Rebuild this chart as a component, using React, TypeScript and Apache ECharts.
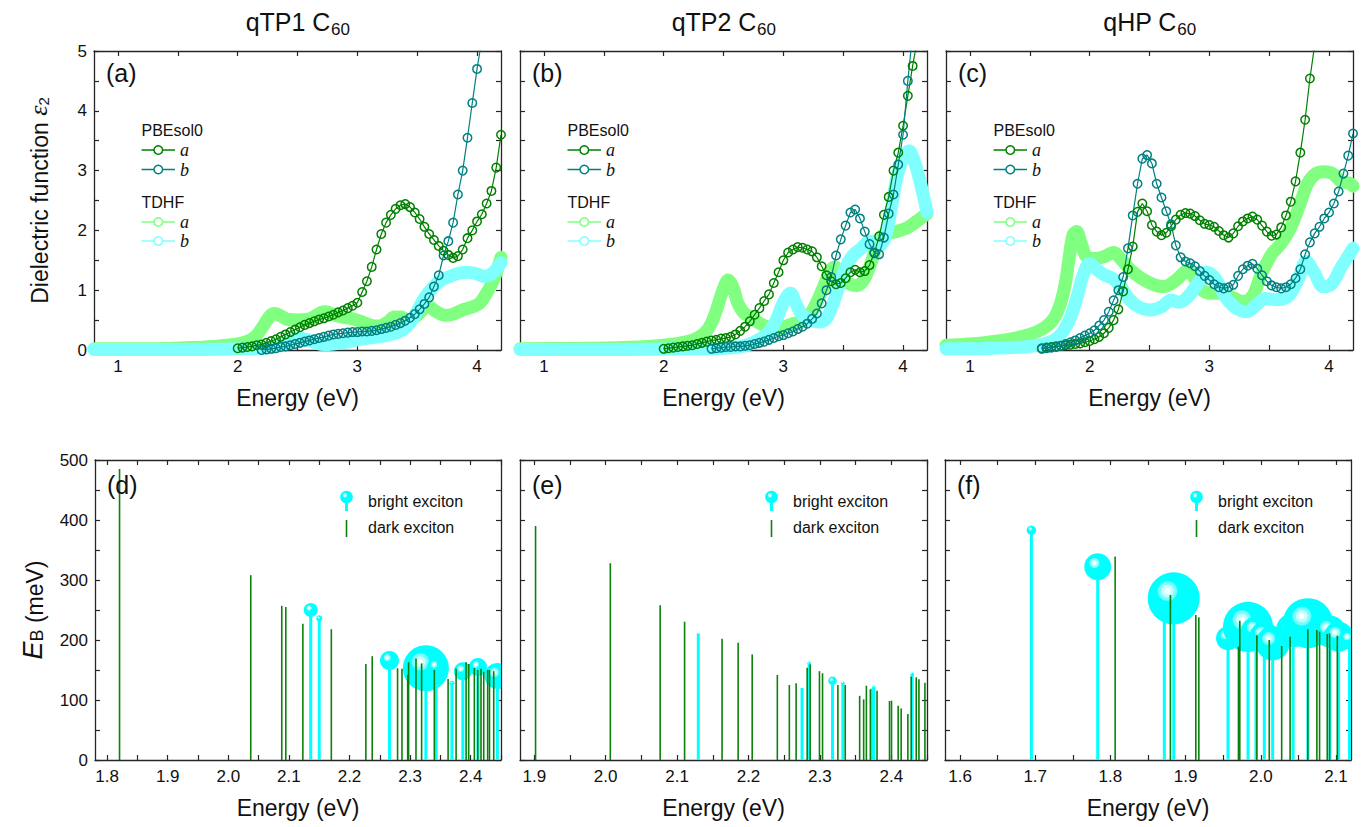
import React, { useEffect, useRef } from 'react';
import * as echarts from 'echarts';

// ---------------- data ----------------
const panelNames = ['qTP1', 'qTP2', 'qHP'];
const titleMolecule = 'C';
const titleSub = '60';
const topTags = ['(a)', '(b)', '(c)'];
const bottomTags = ['(d)', '(e)', '(f)'];
const pbeName = 'PBEsol0';
const tdhfName = 'TDHF';
const compNames = ['a', 'b'];
const brightName = 'bright exciton';
const darkName = 'dark exciton';
const energyName = 'Energy (eV)';

const energyRangeTop = [0.8, 4.2];
const energyLabelsTop = [1, 2, 3, 4];
const energyTicksTop = [1, 1.5, 2, 2.5, 3, 3.5, 4];
const eps2Range = [0, 5];
const eps2Labels = [0, 1, 2, 3, 4, 5];
const eps2Ticks = [0, 0.5, 1, 1.5, 2, 2.5, 3, 3.5, 4, 4.5, 5];

const ebRange = [0, 500];
const ebLabels = [0, 100, 200, 300, 400, 500];
const ebTicks = [0, 50, 100, 150, 200, 250, 300, 350, 400, 450, 500];

const dRange = [1.78, 2.45];
const dLabels = [1.8, 1.9, 2.0, 2.1, 2.2, 2.3, 2.4];
const dTicks = [1.8, 1.85, 1.9, 1.95, 2.0, 2.05, 2.1, 2.15, 2.2, 2.25, 2.3, 2.35, 2.4, 2.45];
const eRange = [1.88, 2.45];
const eLabels = [1.9, 2.0, 2.1, 2.2, 2.3, 2.4];
const eTicks = [1.9, 1.95, 2.0, 2.05, 2.1, 2.15, 2.2, 2.25, 2.3, 2.35, 2.4, 2.45];
const fRange = [1.58, 2.12];
const fLabels = [1.6, 1.7, 1.8, 1.9, 2.0, 2.1];
const fTicks = [1.6, 1.65, 1.7, 1.75, 1.8, 1.85, 1.9, 1.95, 2.0, 2.05, 2.1];

// PBEsol0 spectra: uniform energy grid (start, step 0.04 eV)
const pbeStep = 0.04;
const aPbeAStart = 2.0;
const aPbeA = [0.03, 0.04, 0.05, 0.06, 0.08, 0.09, 0.12, 0.15, 0.18, 0.22, 0.26, 0.3, 0.34, 0.38, 0.42, 0.45, 0.48, 0.51, 0.53, 0.56, 0.59, 0.63, 0.66, 0.7, 0.74, 0.79, 0.97, 1.15, 1.39, 1.68, 1.94, 2.13, 2.26, 2.36, 2.42, 2.44, 2.39, 2.3, 2.19, 2.06, 1.94, 1.84, 1.74, 1.66, 1.59, 1.54, 1.57, 1.68, 1.87, 2.0, 2.15, 2.27, 2.45, 2.66, 3.05, 3.6];
const aPbeBStart = 2.2;
const aPbeB = [0.0, 0.01, 0.02, 0.03, 0.05, 0.06, 0.08, 0.1, 0.12, 0.14, 0.16, 0.18, 0.2, 0.22, 0.24, 0.26, 0.27, 0.28, 0.29, 0.3, 0.3, 0.31, 0.31, 0.32, 0.33, 0.35, 0.37, 0.39, 0.42, 0.45, 0.49, 0.54, 0.6, 0.68, 0.77, 0.88, 1.06, 1.25, 1.58, 1.82, 2.13, 2.6, 3.0, 3.55, 4.13, 4.7, 5.2, 5.8];
const bPbeAStart = 2.0;
const bPbeA = [0.02, 0.03, 0.04, 0.05, 0.06, 0.07, 0.08, 0.1, 0.12, 0.14, 0.16, 0.17, 0.19, 0.2, 0.22, 0.26, 0.32, 0.39, 0.48, 0.59, 0.7, 0.82, 0.93, 1.12, 1.3, 1.5, 1.63, 1.68, 1.72, 1.71, 1.68, 1.65, 1.55, 1.4, 1.25, 1.15, 1.1, 1.12, 1.2, 1.3, 1.34, 1.3, 1.32, 1.42, 1.62, 1.9, 2.26, 2.56, 3.0, 3.3, 3.75, 4.25, 4.75, 5.2];
const bPbeBStart = 2.4;
const bPbeB = [0.02, 0.03, 0.04, 0.05, 0.05, 0.06, 0.06, 0.07, 0.08, 0.1, 0.12, 0.14, 0.17, 0.2, 0.23, 0.25, 0.28, 0.31, 0.35, 0.39, 0.44, 0.52, 0.61, 0.78, 1.0, 1.22, 1.58, 1.85, 2.08, 2.3, 2.35, 2.2, 1.98, 1.77, 1.63, 1.6, 1.88, 2.28, 2.6, 3.1, 3.6, 4.5, 5.3];
const cPbeAStart = 1.6;
const cPbeA = [0.03, 0.04, 0.05, 0.06, 0.07, 0.08, 0.09, 0.1, 0.11, 0.13, 0.15, 0.18, 0.22, 0.28, 0.37, 0.5, 0.68, 0.98, 1.35, 1.73, 2.31, 2.45, 2.32, 2.09, 1.98, 1.92, 1.96, 2.07, 2.18, 2.26, 2.29, 2.28, 2.24, 2.17, 2.11, 2.09, 2.06, 1.99, 1.92, 1.88, 1.95, 2.07, 2.15, 2.2, 2.23, 2.18, 2.08, 1.98, 1.91, 1.93, 2.05, 2.25, 2.48, 2.82, 3.3, 3.85, 4.54, 5.1];
const cPbeBStart = 1.6;
const cPbeB = [0.02, 0.03, 0.04, 0.05, 0.07, 0.1, 0.13, 0.16, 0.2, 0.24, 0.28, 0.33, 0.41, 0.5, 0.64, 0.83, 1.0, 1.22, 1.7, 2.25, 2.78, 3.2, 3.26, 3.12, 2.78, 2.55, 2.32, 2.1, 1.75, 1.55, 1.48, 1.45, 1.4, 1.32, 1.24, 1.17, 1.1, 1.05, 1.03, 1.05, 1.09, 1.24, 1.35, 1.41, 1.44, 1.36, 1.25, 1.15, 1.08, 1.05, 1.03, 1.05, 1.1, 1.2, 1.35, 1.6, 1.8, 1.95, 2.06, 2.2, 2.3, 2.45, 2.65, 2.95, 3.25, 3.62];

// TDHF spectra: [energy, eps2]
const aTdA = [[0.8, 0.02], [1.2, 0.02], [1.6, 0.04], [1.8, 0.06], [2.0, 0.1], [2.1, 0.16], [2.16, 0.25], [2.22, 0.42], [2.27, 0.57], [2.31, 0.61], [2.36, 0.57], [2.42, 0.51], [2.5, 0.5], [2.58, 0.51], [2.64, 0.56], [2.7, 0.63], [2.74, 0.64], [2.8, 0.59], [2.88, 0.55], [2.96, 0.52], [3.04, 0.47], [3.12, 0.41], [3.18, 0.4], [3.25, 0.46], [3.31, 0.55], [3.36, 0.55], [3.43, 0.5], [3.5, 0.58], [3.56, 0.7], [3.6, 0.72], [3.66, 0.64], [3.74, 0.58], [3.8, 0.6], [3.88, 0.67], [3.96, 0.72], [4.02, 0.78], [4.08, 0.95], [4.14, 1.18], [4.2, 1.55]];
const aTdB = [[0.8, 0.01], [1.6, 0.01], [2.0, 0.02], [2.2, 0.03], [2.3, 0.05], [2.4, 0.1], [2.47, 0.18], [2.52, 0.2], [2.58, 0.17], [2.65, 0.12], [2.72, 0.09], [2.8, 0.1], [2.9, 0.13], [3.0, 0.17], [3.1, 0.2], [3.2, 0.23], [3.3, 0.27], [3.38, 0.34], [3.44, 0.45], [3.5, 0.65], [3.56, 0.87], [3.62, 1.02], [3.68, 1.14], [3.76, 1.22], [3.84, 1.28], [3.92, 1.3], [4.0, 1.27], [4.06, 1.23], [4.12, 1.27], [4.16, 1.35], [4.2, 1.46]];
const bTdA = [[0.8, 0.02], [1.4, 0.03], [1.8, 0.05], [2.0, 0.08], [2.2, 0.14], [2.3, 0.22], [2.37, 0.35], [2.42, 0.55], [2.47, 0.85], [2.51, 1.08], [2.54, 1.17], [2.58, 1.05], [2.62, 0.78], [2.67, 0.62], [2.74, 0.53], [2.8, 0.45], [2.88, 0.37], [2.94, 0.34], [3.0, 0.38], [3.08, 0.44], [3.16, 0.48], [3.22, 0.58], [3.28, 0.8], [3.34, 1.08], [3.39, 1.32], [3.43, 1.39], [3.48, 1.27], [3.54, 1.12], [3.62, 1.08], [3.68, 1.2], [3.74, 1.5], [3.79, 1.8], [3.84, 1.93], [3.9, 1.96], [3.96, 1.99], [4.04, 2.05], [4.12, 2.16], [4.2, 2.28]];
const bTdB = [[0.8, 0.01], [1.6, 0.01], [2.2, 0.02], [2.5, 0.03], [2.62, 0.05], [2.72, 0.1], [2.8, 0.18], [2.88, 0.3], [2.94, 0.5], [2.99, 0.75], [3.03, 0.9], [3.06, 0.95], [3.1, 0.8], [3.15, 0.6], [3.22, 0.5], [3.3, 0.47], [3.36, 0.53], [3.42, 0.8], [3.47, 1.1], [3.52, 1.38], [3.58, 1.58], [3.65, 1.7], [3.72, 1.82], [3.76, 1.82], [3.8, 1.74], [3.85, 1.88], [3.9, 2.35], [3.95, 2.9], [4.0, 3.2], [4.05, 3.33], [4.1, 3.12], [4.15, 2.75], [4.2, 2.3]];
const cTdA = [[0.8, 0.08], [1.0, 0.1], [1.3, 0.17], [1.5, 0.26], [1.62, 0.37], [1.7, 0.52], [1.76, 0.8], [1.8, 1.15], [1.83, 1.56], [1.86, 1.92], [1.89, 1.98], [1.93, 1.78], [1.97, 1.57], [2.04, 1.53], [2.12, 1.56], [2.2, 1.63], [2.27, 1.5], [2.34, 1.34], [2.43, 1.2], [2.54, 1.09], [2.62, 1.06], [2.71, 1.15], [2.78, 1.28], [2.82, 1.34], [2.87, 1.22], [2.93, 1.02], [3.01, 0.95], [3.1, 0.95], [3.18, 0.89], [3.28, 0.81], [3.36, 0.9], [3.43, 1.25], [3.52, 1.6], [3.6, 1.78], [3.68, 2.05], [3.75, 2.4], [3.82, 2.78], [3.89, 2.95], [3.96, 2.98], [4.03, 2.95], [4.1, 2.82], [4.17, 2.79], [4.2, 2.74]];
const cTdB = [[0.8, 0.02], [1.2, 0.03], [1.5, 0.06], [1.65, 0.12], [1.74, 0.22], [1.8, 0.38], [1.85, 0.6], [1.9, 0.92], [1.95, 1.28], [2.0, 1.45], [2.05, 1.36], [2.12, 1.26], [2.19, 1.2], [2.26, 1.06], [2.33, 0.85], [2.41, 0.72], [2.51, 0.67], [2.6, 0.72], [2.68, 0.83], [2.75, 0.8], [2.82, 0.89], [2.9, 1.1], [2.98, 1.3], [3.06, 1.17], [3.13, 0.9], [3.21, 0.72], [3.31, 0.64], [3.39, 0.75], [3.47, 0.86], [3.57, 0.84], [3.66, 0.9], [3.74, 1.17], [3.81, 1.48], [3.88, 1.28], [3.95, 1.06], [4.02, 1.1], [4.1, 1.38], [4.17, 1.6], [4.2, 1.7]];

// Excitons: [energy eV, binding energy meV, (bright only) oscillator-strength marker radius]
const dBright = [[2.136, 250, 7], [2.15, 236, 3], [2.266, 166, 9.5], [2.326, 153, 23], [2.343, 155, 9], [2.369, 128, 2.5], [2.387, 148, 9], [2.412, 155, 9], [2.444, 140, 13]];
const dDark = [[1.8205, 485], [2.037, 308], [2.0882, 257], [2.0949, 255], [2.123, 227], [2.17, 218], [2.227, 160], [2.2375, 173], [2.2793, 153], [2.2866, 152], [2.296, 142], [2.2975, 163], [2.3097, 169], [2.319, 161], [2.34, 150], [2.3627, 135], [2.3759, 152], [2.3924, 163], [2.3967, 160], [2.406, 153], [2.4116, 150], [2.417, 152], [2.4215, 147], [2.428, 150], [2.431, 150], [2.438, 148]];
const eBright = [[2.1297, 211, 0], [2.275, 120, 0], [2.285, 161, 1.8], [2.3177, 132, 4.3], [2.3322, 128, 1.8], [2.3725, 118, 1.2], [2.3754, 121, 1.6], [2.4293, 143, 1.8]];
const eDark = [[1.9018, 390], [2.0065, 328], [2.0763, 258], [2.1105, 230.5], [2.163, 202], [2.1855, 195.5], [2.2052, 176], [2.2404, 141.7], [2.2572, 125], [2.2667, 127.8], [2.2822, 153.9], [2.2864, 159], [2.2994, 148], [2.3037, 144.5], [2.3252, 125], [2.3355, 125], [2.3557, 107], [2.3613, 101], [2.3651, 123.8], [2.3707, 117.8], [2.38, 115.5], [2.3975, 98.3], [2.4003, 99], [2.4096, 90.5], [2.4138, 86], [2.4232, 76.7], [2.4279, 139], [2.4349, 137.8], [2.4387, 134.4], [2.4471, 128.9]];
const fBright = [[1.6949, 383, 4.7], [1.7831, 322, 13.5], [1.8717, 262, 2], [1.8842, 269.5, 26], [1.9564, 203, 12], [1.983, 222, 25], [1.9936, 214, 15], [2.0047, 205.5, 15], [2.0158, 194.5, 17], [2.043, 216.7, 17], [2.0626, 228, 25], [2.092, 214, 16], [2.1035, 205.5, 15], [2.118, 201, 10]];
const fDark = [[1.8063, 339], [1.8798, 275], [1.9136, 241.7], [1.9176, 238], [1.9703, 189], [1.9721, 232], [1.9948, 208], [2.0113, 200], [2.0278, 190], [2.039, 205.5], [2.0626, 218], [2.0746, 216.7], [2.0782, 214], [2.0884, 210], [2.0915, 211], [2.1018, 207]];

// ---------------- styling / layout ----------------
const FONT = "'Liberation Sans', Arial, Helvetica, sans-serif";
const SERIF = "'Liberation Serif', 'Times New Roman', serif";
const AX = '#262626';
const TXT = '#111111';
const C_PBE_A = '#008000';
const C_PBE_B = '#008080';
const C_TD_A = '#80FF80';
const C_TD_B = '#80FFFF';
const C_BRIGHT = '#00FFFF';
const C_DARK = '#0B800B';

const TOP_LEFTS = [94, 520, 946];
const TOP_W = 407;
const TOP_T = 51;
const TOP_H = 299;
const BOT_LEFTS = [95, 520, 945];
const BOT_WS = [406, 407, 406];
const BOT_T = 460;
const BOT_H = 300;

function measure(text: string, size: number) {
  try {
    const ctx = document.createElement('canvas').getContext('2d');
    if (ctx) {
      ctx.font = `${size}px ${FONT}`;
      return ctx.measureText(text).width;
    }
  } catch (e) { /* ignore */ }
  return text.length * size * 0.55;
}

function ballFill() {
  return new echarts.graphic.RadialGradient(0.38, 0.36, 0.5, [
    { offset: 0, color: '#ffffff' },
    { offset: 0.1, color: '#ffffff' },
    { offset: 0.13, color: '#c4fdfd' },
    { offset: 0.22, color: '#c4fdfd' },
    { offset: 0.25, color: '#86fcfc' },
    { offset: 0.35, color: '#70fbfb' },
    { offset: 0.4, color: '#00ffff' },
    { offset: 1, color: '#00ffff' },
  ]);
}

function pbeSeries(start: number, vals: number[]) {
  return vals.map((v, i) => [Math.round((start + i * pbeStep) * 100) / 100, v]);
}

function buildOption() {
  const grid: any[] = [];
  const xAxis: any[] = [];
  const yAxis: any[] = [];
  const series: any[] = [];
  const graphic: any[] = [];

  TOP_LEFTS.forEach((l) => grid.push({ left: l, top: TOP_T, width: TOP_W, height: TOP_H, containLabel: false, outerBoundsMode: 'none' }));
  BOT_LEFTS.forEach((l, i) => grid.push({ left: l, top: BOT_T, width: BOT_WS[i], height: BOT_H, containLabel: false, outerBoundsMode: 'none' }));

  const tickCommon = (ticks: number[]) => ({ show: true, inside: true, length: 5, customValues: ticks, lineStyle: { color: AX, width: 1.2 } });
  const lineCommon = { show: true, onZero: false, lineStyle: { color: AX, width: 1.3 } };

  const addX = (gi: number, range: number[], labels: number[], ticks: number[], fmt: (v: number) => string) => {
    const base = { type: 'value', gridIndex: gi, min: range[0], max: range[1], splitLine: { show: false }, axisLine: lineCommon, axisTick: tickCommon(ticks) };
    xAxis.push({
      ...base, position: 'bottom',
      axisLabel: { show: true, customValues: labels, formatter: fmt, fontSize: 17, color: TXT, fontFamily: FONT, margin: 8 },
      name: energyName, nameLocation: 'middle', nameGap: 36, nameMoveOverlap: false,
      nameTextStyle: { fontSize: 23, color: TXT, fontFamily: FONT },
    });
    xAxis.push({ ...base, position: 'top', axisLabel: { show: false } });
  };
  const addY = (gi: number, range: number[], labels: number[], ticks: number[], showLabels: boolean, name?: string, nameGap?: number, rich?: any) => {
    const base = { type: 'value', gridIndex: gi, min: range[0], max: range[1], splitLine: { show: false }, axisLine: lineCommon, axisTick: tickCommon(ticks) };
    const left: any = {
      ...base, position: 'left',
      axisLabel: { show: showLabels, customValues: labels, fontSize: 17, color: TXT, fontFamily: FONT, margin: 7 },
    };
    if (name) {
      left.name = name;
      left.nameLocation = 'middle';
      left.nameGap = nameGap;
      left.nameMoveOverlap = false;
      left.nameTextStyle = { fontSize: 23, color: TXT, fontFamily: FONT, rich };
    }
    yAxis.push(left);
    yAxis.push({ ...base, position: 'right', axisLabel: { show: false } });
  };

  const fmtInt = (v: number) => String(Math.round(v));
  const fmt1 = (v: number) => v.toFixed(1);

  // top axes
  for (let p = 0; p < 3; p++) {
    addX(p, energyRangeTop, energyLabelsTop, energyTicksTop, fmtInt);
    if (p === 0) {
      addY(p, eps2Range, eps2Labels, eps2Ticks, true, '{t|Dielectric function }{e|ε}{s|2}', 43, {
        t: { fontSize: 23, lineHeight: 30, verticalAlign: 'bottom', color: TXT, fontFamily: FONT },
        e: { fontSize: 26, lineHeight: 30, verticalAlign: 'bottom', color: TXT, fontFamily: SERIF, fontStyle: 'italic' },
        s: { fontSize: 15, lineHeight: 13, verticalAlign: 'bottom', color: TXT, fontFamily: FONT },
      });
    } else {
      addY(p, eps2Range, eps2Labels, eps2Ticks, false);
    }
  }
  // bottom axes
  const botRanges = [dRange, eRange, fRange];
  const botLabels = [dLabels, eLabels, fLabels];
  const botTicks = [dTicks, eTicks, fTicks];
  for (let p = 0; p < 3; p++) {
    addX(3 + p, botRanges[p], botLabels[p], botTicks[p], fmt1);
    if (p === 0) {
      addY(3, ebRange, ebLabels, ebTicks, true, '{e|E}{s|B}{t| (meV)}', 49, {
        t: { fontSize: 23, lineHeight: 30, verticalAlign: 'bottom', color: TXT, fontFamily: FONT },
        e: { fontSize: 27, lineHeight: 30, verticalAlign: 'bottom', color: TXT, fontFamily: FONT, fontStyle: 'italic' },
        s: { fontSize: 18, lineHeight: 14, verticalAlign: 'bottom', color: TXT, fontFamily: FONT },
      });
    } else {
      addY(3 + p, ebRange, ebLabels, ebTicks, false);
    }
  }

  // top series
  const topSets = [
    { pa: pbeSeries(aPbeAStart, aPbeA), pb: pbeSeries(aPbeBStart, aPbeB), ta: aTdA, tb: aTdB },
    { pa: pbeSeries(bPbeAStart, bPbeA), pb: pbeSeries(bPbeBStart, bPbeB), ta: bTdA, tb: bTdB },
    { pa: pbeSeries(cPbeAStart, cPbeA), pb: pbeSeries(cPbeBStart, cPbeB), ta: cTdA, tb: cTdB },
  ];
  topSets.forEach((s, p) => {
    const ax = { xAxisIndex: 2 * p, yAxisIndex: 2 * p };
    const thick = (name: string, data: number[][], color: string) => ({
      type: 'line', name, ...ax, data, smooth: 0.35, symbol: 'none', clip: true, silent: true,
      lineStyle: { color, width: 13, cap: 'round', join: 'round' },
    });
    const open = (name: string, data: number[][], color: string) => ({
      type: 'line', name, ...ax, data, symbol: 'circle', symbolSize: 8.5, showAllSymbol: true, clip: true, silent: true,
      itemStyle: { color: 'rgba(255,255,255,0)', borderColor: color, borderWidth: 1.5 },
      lineStyle: { color, width: 1.2 },
    });
    series.push(thick(`${tdhfName} a`, s.ta, C_TD_A));
    series.push(thick(`${tdhfName} b`, s.tb, C_TD_B));
    series.push(open(`${pbeName} a`, s.pa, C_PBE_A));
    series.push(open(`${pbeName} b`, s.pb, C_PBE_B));
  });

  // bottom series
  const botSets = [
    { bright: dBright, dark: dDark },
    { bright: eBright, dark: eDark },
    { bright: fBright, dark: fDark },
  ];
  const stem = (color: string, width: number) => (params: any, api: any) => {
    const e = api.value(0);
    const top = api.coord([e, api.value(1)]);
    const base = api.coord([e, 0]);
    return { type: 'line', shape: { x1: top[0], y1: top[1], x2: base[0], y2: base[1] }, style: { stroke: color, lineWidth: width } };
  };
  botSets.forEach((s, p) => {
    const ax = { xAxisIndex: 2 * (3 + p), yAxisIndex: 2 * (3 + p) };
    series.push({ type: 'custom', name: `${brightName} stems`, ...ax, data: s.bright, clip: true, silent: true, renderItem: stem(C_BRIGHT, 3) });
    series.push({
      type: 'custom', name: brightName, ...ax, data: s.bright, clip: true, silent: true,
      renderItem: (params: any, api: any) => {
        const r = api.value(2);
        if (!r) return { type: 'group', children: [] };
        const c = api.coord([api.value(0), api.value(1)]);
        return { type: 'circle', shape: { cx: c[0], cy: c[1], r }, style: { fill: ballFill(), stroke: 'none' } };
      },
    });
    series.push({ type: 'custom', name: darkName, ...ax, data: s.dark, clip: true, silent: true, renderItem: stem(C_DARK, 1.6) });
  });

  // titles (main text + lowered subscript)
  panelNames.forEach((n, i) => {
    const main = `${n} ${titleMolecule}`;
    const wMain = measure(main, 25);
    const wSub = measure(titleSub, 17);
    const x0 = TOP_LEFTS[i] + TOP_W / 2 - (wMain + wSub) / 2;
    graphic.push({ type: 'text', x: x0, y: 22, z: 100, style: { text: main, fontSize: 25, fill: TXT, fontFamily: FONT, verticalAlign: 'middle', align: 'left' } });
    graphic.push({ type: 'text', x: x0 + wMain + 0.5, y: 29, z: 100, style: { text: titleSub, fontSize: 17, fill: TXT, fontFamily: FONT, verticalAlign: 'middle', align: 'left' } });
  });
  // panel tags
  topTags.forEach((t, i) => graphic.push({ type: 'text', x: TOP_LEFTS[i] + 12, y: 73, z: 100, style: { text: t, fontSize: 25, fill: TXT, fontFamily: FONT, verticalAlign: 'middle' } }));
  bottomTags.forEach((t, i) => graphic.push({ type: 'text', x: BOT_LEFTS[i] + 12, y: 485, z: 100, style: { text: t, fontSize: 25, fill: TXT, fontFamily: FONT, verticalAlign: 'middle' } }));

  // top legends
  TOP_LEFTS.forEach((L) => {
    const rows = [
      { header: pbeName, y: 130 },
      { comp: 0, color: C_PBE_A, y: 150 },
      { comp: 1, color: C_PBE_B, y: 169.5 },
      { header: tdhfName, y: 202 },
      { comp: 0, color: C_TD_A, y: 222 },
      { comp: 1, color: C_TD_B, y: 241 },
    ];
    rows.forEach((r: any) => {
      if (r.header) {
        graphic.push({ type: 'text', x: L + 47.5, y: r.y, z: 100, style: { text: r.header, fontSize: 16, fill: TXT, fontFamily: FONT, verticalAlign: 'middle' } });
      } else {
        graphic.push({ type: 'line', z: 100, shape: { x1: L + 47.5, y1: r.y, x2: L + 81, y2: r.y }, style: { stroke: r.color, lineWidth: 1.3 } });
        graphic.push({ type: 'circle', z: 101, shape: { cx: L + 64.3, cy: r.y, r: 4.3 }, style: { fill: '#ffffff', stroke: r.color, lineWidth: 1.5 } });
        graphic.push({ type: 'text', x: L + 86, y: r.y, z: 100, style: { text: compNames[r.comp], fontSize: 18, fontStyle: 'italic', fill: TXT, fontFamily: SERIF, verticalAlign: 'middle' } });
      }
    });
  });

  // bottom legends
  BOT_LEFTS.forEach((L) => {
    const bx = L + 251.5;
    graphic.push({ type: 'line', z: 100, shape: { x1: bx, y1: 502, x2: bx, y2: 511 }, style: { stroke: C_BRIGHT, lineWidth: 3 } });
    graphic.push({ type: 'circle', z: 101, shape: { cx: bx, cy: 497, r: 6.3 }, style: { fill: ballFill() } });
    graphic.push({ type: 'text', x: L + 273, y: 501.5, z: 100, style: { text: brightName, fontSize: 16, fill: TXT, fontFamily: FONT, verticalAlign: 'middle' } });
    graphic.push({ type: 'line', z: 100, shape: { x1: bx, y1: 520, x2: bx, y2: 537 }, style: { stroke: C_DARK, lineWidth: 1.6 } });
    graphic.push({ type: 'text', x: L + 273, y: 527.5, z: 100, style: { text: darkName, fontSize: 16, fill: TXT, fontFamily: FONT, verticalAlign: 'middle' } });
  });

  return {
    animation: false,
    backgroundColor: '#ffffff',
    textStyle: { fontFamily: FONT },
    grid, xAxis, yAxis, series, graphic,
  };
}

export default function App() {
  const ref = useRef<HTMLDivElement>(null);
  useEffect(() => {
    if (!ref.current) return;
    const chart = echarts.init(ref.current, null, { renderer: 'svg' });
    chart.setOption(buildOption() as any);
    return () => chart.dispose();
  }, []);
  return <div ref={ref} style={{ position: 'absolute', left: 0, top: 0, width: 1367, height: 827, background: '#fff' }} />;
}
